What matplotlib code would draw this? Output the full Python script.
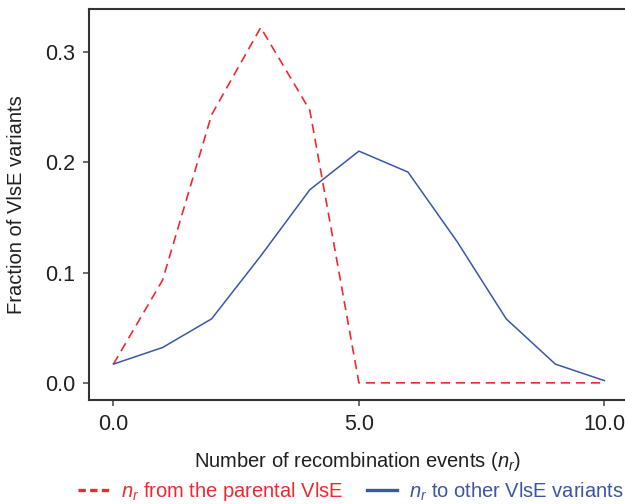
import matplotlib.pyplot as plt

plt.rcParams['font.family'] = ['Liberation Sans', 'DejaVu Sans']
plt.rcParams['mathtext.fontset'] = 'custom'
plt.rcParams['mathtext.it'] = 'Liberation Sans:italic'
plt.rcParams['mathtext.rm'] = 'Liberation Sans'

# number of recombination events
n_r = [0, 1, 2, 3, 4, 5, 6, 7, 8, 9, 10]
# fraction of VlsE variants
parental = [0.017, 0.093, 0.243, 0.322, 0.247, 0.0, 0.0, 0.0, 0.0, 0.0, 0.0]
others = [0.017, 0.032, 0.058, 0.115, 0.175, 0.210, 0.191, 0.128, 0.058, 0.017, 0.002]

red = "#ee2a2e"
blue = "#3b56a8"
txt = "#231f20"

fig = plt.figure(figsize=(6.25, 5.04), dpi=100)
ax = fig.add_axes([0.143, 0.206, 0.857, 0.7755])

ax.plot(n_r, parental, color=red, linestyle=(0, (5.5, 3.5)), linewidth=1.2,
        label=r"$n_r$ from the parental VlsE")
ax.plot(n_r, others, color=blue, linewidth=1.1,
        label=r"$n_r$ to other VlsE variants")

ax.set_xlim(-0.49, 10.42)
ax.set_ylim(-0.0157, 0.3385)
ax.set_xticks([0, 5, 10])
ax.set_xticklabels(["0.0", "5.0", "10.0"])
ax.set_yticks([0, 0.1, 0.2, 0.3])
ax.set_yticklabels(["0.0", "0.1", "0.2", "0.3"])

for s in ["left", "bottom", "top"]:
    ax.spines[s].set_color("#333333")
    ax.spines[s].set_linewidth(1.5)
ax.spines["right"].set_visible(False)
ax.tick_params(colors="#555555", labelcolor=txt, labelsize=15.5, length=4, width=1.2, pad=6)

ax.set_xlabel(r"Number of recombination events ($n_r$)", fontsize=14.5, color=txt, labelpad=11)
ax.set_ylabel("Fraction of VlsE variants", fontsize=14.5, color=txt, labelpad=14)

leg = fig.legend(loc="center", bbox_to_anchor=(0.562, 0.024), ncol=2, frameon=False,
                 fontsize=14.5, handlelength=1.5, handletextpad=0.6, columnspacing=1.2,
                 labelcolor="linecolor")
for h in leg.legend_handles:
    h.set_linewidth(2.4)
leg.legend_handles[0].set_linestyle((0, (2.2, 1.3)))

fig.savefig("out.png", dpi=100)
